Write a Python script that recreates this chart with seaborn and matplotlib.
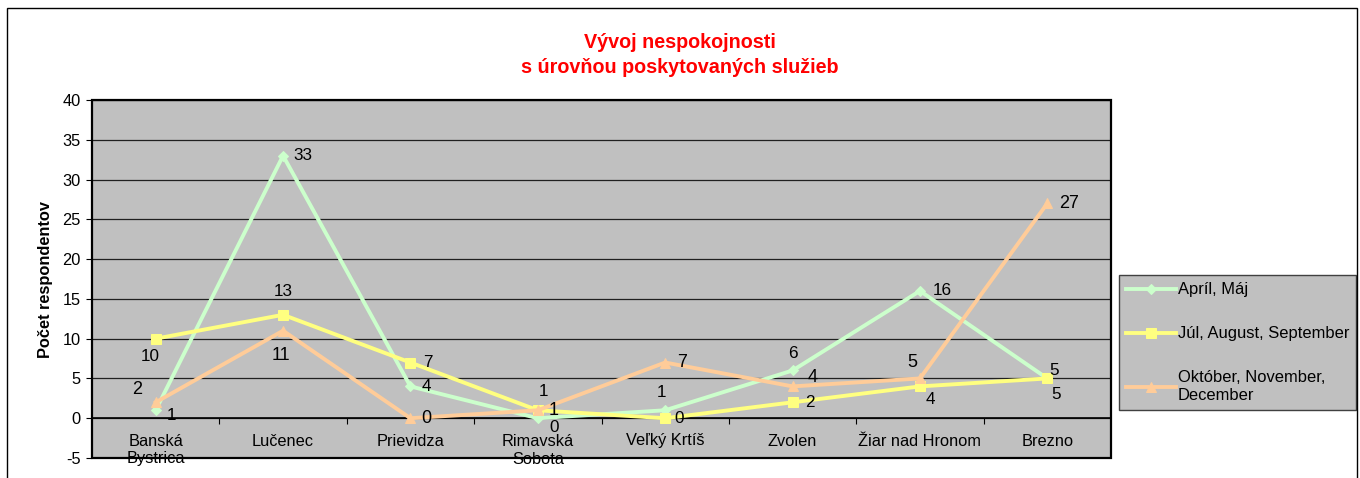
import numpy as np
import pandas as pd
import matplotlib
matplotlib.use("Agg")
import matplotlib.pyplot as plt
from matplotlib.patches import Rectangle
import seaborn as sns

# data
categories = ["Banská\nBystrica", "Lučenec", "Prievidza", "Rimavská\nSobota",
              "Veľký Krtíš", "Zvolen", "Žiar nad Hronom", "Brezno"]
series_names = ["Apríl, Máj", "Júl, August, September", "Október, November,\nDecember"]
april_maj = [1, 33, 4, 0, 1, 6, 16, 5]
jul_sep = [10, 13, 7, 1, 0, 2, 4, 5]
okt_dec = [2, 11, 0, 1, 7, 4, 5, 27]
y_ticks = list(range(-5, 41, 5))

plt.rcParams['font.family'] = ['Liberation Sans', 'DejaVu Sans']

colors = ["#CCFFCC", "#FFFF80", "#FFCC99"]
markers = ["D", "s", "^"]
msizes = [5, 7, 7]
label_sizes = [12.3, 12.3, 13]
# label offsets in pixels (dx, dy) for each point
offsets = [
    [(16, -5), (20, 0), (16, 0), (16, -9), (-4, 18), (0, 17), (22, 0), (7, 8)],
    [(-5, -18), (0, 23), (17, 0), (6, 19), (14, 0), (17, 0), (10, -13), (9, -16)],
    [(-19, 13), (-2, -25), (16, 0), (16, 0), (17, 0), (20, 9), (-8, 16), (22, 0)],
]

df = pd.DataFrame({"pos": np.arange(len(categories))})

fig = plt.figure(figsize=(13.6, 4.78), dpi=100)
ax = fig.add_axes([92/1360, 1-458/478, (1111-92)/1360, (458-100)/478])
ax.set_facecolor("#C0C0C0")
ax.set_zorder(1)

# category axis crosses at zero (set first, it resets the ticks)
ax.spines["bottom"].set_position(("data", 0))
for s in ["left", "top", "right", "bottom"]:
    ax.spines[s].set_linewidth(1.2)

for i, vals in enumerate([april_maj, jul_sep, okt_dec]):
    sns.lineplot(x=df["pos"], y=vals, ax=ax, color=colors[i], marker=markers[i],
                 markersize=msizes[i], markeredgecolor=colors[i], linewidth=2.8,
                 label=series_names[i], sort=False, zorder=3)
    for j, v in enumerate(vals):
        ax.annotate(str(v), (j, v), xytext=offsets[i][j], textcoords="offset pixels",
                    ha="center", va="center", fontsize=label_sizes[i], color="black",
                    zorder=4)

ax.set_xlim(-0.5, len(categories) - 0.5)
ax.set_ylim(-5, 40)
ax.set_yticks(y_ticks)
ax.set_yticklabels([str(t) for t in y_ticks])
ax.set_xticks(range(len(categories)))
ax.set_xticklabels(categories, linespacing=1.25, va="top")
ax.set_xticks(np.arange(0.5, len(categories) - 0.5, 1), minor=True)
ax.tick_params(axis="x", which="major", length=0, pad=11, labelsize=11.8)
ax.tick_params(axis="x", which="minor", length=4, direction="out", width=0.8)
ax.tick_params(axis="y", length=4, direction="out", width=0.8, pad=4, labelsize=11.8)
ax.grid(axis="y", color="#202020", linewidth=0.9)
ax.set_axisbelow(True)
ax.set_xlabel("")
ax.set_ylabel("Počet respondentov", fontsize=11.8, fontweight="bold", labelpad=7)

ax.add_patch(Rectangle((0, 0), 1, 1, transform=ax.transAxes, fill=False,
                       edgecolor="black", linewidth=1.6, zorder=5, clip_on=False))

leg = ax.legend(loc="upper left", bbox_to_anchor=(1119/1360, 1-275/478),
                bbox_transform=fig.transFigure, fontsize=11.9, frameon=True,
                fancybox=False, edgecolor="#404040", facecolor="#C0C0C0",
                framealpha=1, handlelength=3.0, handletextpad=0.1,
                labelspacing=1.75, borderpad=0.45, borderaxespad=0)
leg.get_frame().set_linewidth(1.0)

fig.text(0.5, 1-42/478, "Vývoj nespokojnosti", ha="center", va="center",
         color="red", fontsize=14.2, fontweight="bold")
fig.text(0.5, 1-67/478, "s úrovňou poskytovaných služieb", ha="center", va="center",
         color="red", fontsize=14.2, fontweight="bold")

fig.patches.append(Rectangle((7/1360, -0.05), 1350/1360, 1.05-8/478,
                             transform=fig.transFigure, fill=False,
                             edgecolor="black", linewidth=1.0))

fig.savefig("out.png", dpi=100)
